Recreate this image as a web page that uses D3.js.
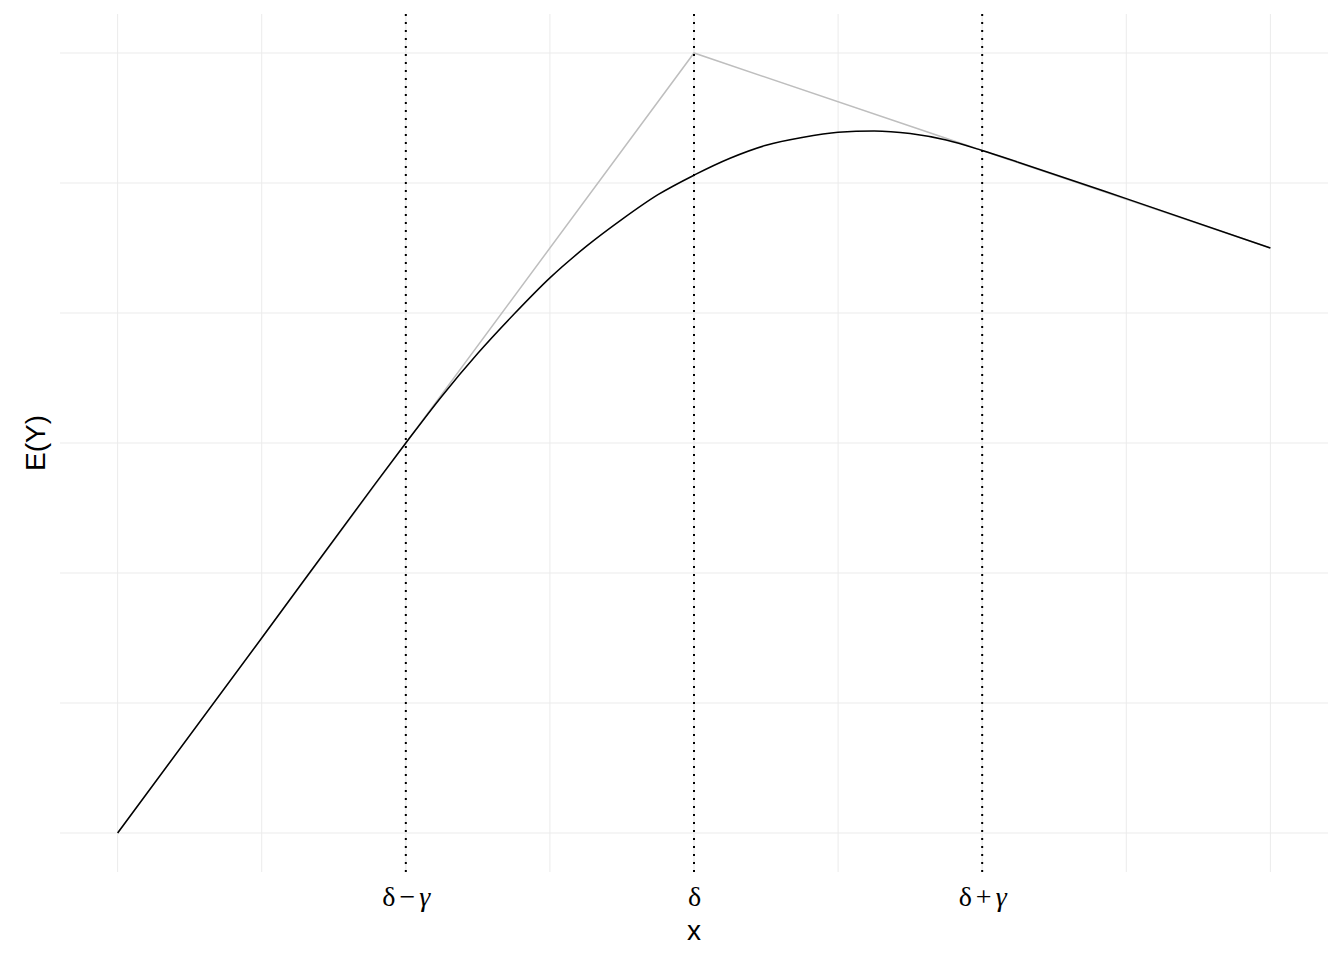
<!DOCTYPE html>
<html>
<head>
<meta charset="utf-8">
<script src="https://cdn.jsdelivr.net/npm/d3@7"></script>
<style>
  body { margin: 0; background: #fff; }
</style>
</head>
<body>
<div id="chart"></div>
<script>
// bent cable: fitted curve (black) and the broken-stick it bends away from (grey)
const curveX = [0, 1, 1.75, 2, 2.25, 2.5, 2.75, 3, 3.25, 3.5, 3.75, 4, 4.25, 4.5, 4.75, 5, 5.25, 5.5, 5.75, 6, 6.25, 7, 8];
const curveY = [0, 1.5, 2.63, 3.00, 3.36, 3.69, 3.99, 4.27, 4.51, 4.72, 4.91, 5.06, 5.19, 5.29, 5.35, 5.39, 5.40, 5.38, 5.33, 5.25, 5.16, 4.88, 4.50];

const stickX = [0, 4, 8];
const stickY = [0, 6, 4.5];

const breaks = [2, 4, 6];
// each label as pieces: [text, italic]
const breakLabels = [
  [['δ', false], ['−', false], ['γ', true]],
  [['δ', false]],
  [['δ', false], ['+', false], ['γ', true]]
];
const gridX = [0, 1, 2, 3, 4, 5, 6, 7, 8];
const gridY = [0, 1, 2, 3, 4, 5, 6];

const width = 1344;
const height = 960;
const margin = { top: 14, right: 16, bottom: 88, left: 60 };

const svg = d3.select('#chart')
  .append('svg')
  .attr('width', width)
  .attr('height', height);

const x = d3.scaleLinear()
  .domain([-0.4, 8.4])
  .range([margin.left, width - margin.right]);

const y = d3.scaleLinear()
  .domain([-0.3, 6.3])
  .range([height - margin.bottom, margin.top]);

// grid
svg.append('g')
  .selectAll('line')
  .data(gridX)
  .enter()
  .append('line')
  .attr('x1', d => x(d)).attr('x2', d => x(d))
  .attr('y1', y.range()[0]).attr('y2', y.range()[1])
  .attr('stroke', '#ebebeb')
  .attr('stroke-width', d => breaks.includes(d) ? 1.4 : 1);

svg.append('g')
  .selectAll('line')
  .data(gridY)
  .enter()
  .append('line')
  .attr('y1', d => y(d)).attr('y2', d => y(d))
  .attr('x1', x.range()[0]).attr('x2', x.range()[1])
  .attr('stroke', '#ebebeb')
  .attr('stroke-width', 1.2);

// lines
const stick = d3.line()
  .x(d => x(d[0]))
  .y(d => y(d[1]));

svg.append('path')
  .datum(d3.zip(stickX, stickY))
  .attr('d', stick)
  .attr('fill', 'none')
  .attr('stroke', '#bebebe')
  .attr('stroke-width', 1.5);

const cable = d3.line()
  .x(d => x(d[0]))
  .y(d => y(d[1]))
  .curve(d3.curveMonotoneX);

svg.append('path')
  .datum(d3.zip(curveX, curveY))
  .attr('d', cable)
  .attr('fill', 'none')
  .attr('stroke', '#000')
  .attr('stroke-width', 1.5);

// dotted verticals at the break points
svg.append('g')
  .selectAll('line')
  .data(breaks)
  .enter()
  .append('line')
  .attr('x1', d => x(d)).attr('x2', d => x(d))
  .attr('y1', y.range()[0]).attr('y2', y.range()[1])
  .attr('stroke', '#000')
  .attr('stroke-width', 2)
  .attr('stroke-dasharray', '2,6');

// x axis labels
const xAxis = d3.axisBottom(x)
  .tickValues(breaks)
  .tickFormat('')
  .tickSize(0);

const ax = svg.append('g')
  .attr('transform', 'translate(0,' + (height - margin.bottom) + ')')
  .call(xAxis);
ax.select('.domain').remove();

ax.selectAll('.tick text')
  .attr('y', 34)
  .attr('dy', null)
  .attr('font-family', '"Liberation Serif", "DejaVu Serif", serif')
  .attr('font-size', 28)
  .attr('fill', '#000')
  .each(function(d, i) {
    const t = d3.select(this);
    breakLabels[i].forEach((p, j) => {
      t.append('tspan')
        .attr('dx', j > 0 ? 4 : 0)
        .attr('font-style', p[1] ? 'italic' : 'normal')
        .text(p[0]);
    });
  });

// titles
svg.append('text')
  .attr('x', (x.range()[0] + x.range()[1]) / 2)
  .attr('y', 940)
  .attr('text-anchor', 'middle')
  .attr('font-family', '"Liberation Sans", Arial, sans-serif')
  .attr('font-size', 28)
  .text('x');

svg.append('text')
  .attr('transform', 'translate(45,' + ((y.range()[0] + y.range()[1]) / 2) + ') rotate(-90)')
  .attr('text-anchor', 'middle')
  .attr('font-family', '"Liberation Sans", Arial, sans-serif')
  .attr('font-size', 28)
  .text('E(Y)');
</script>
</body>
</html>
